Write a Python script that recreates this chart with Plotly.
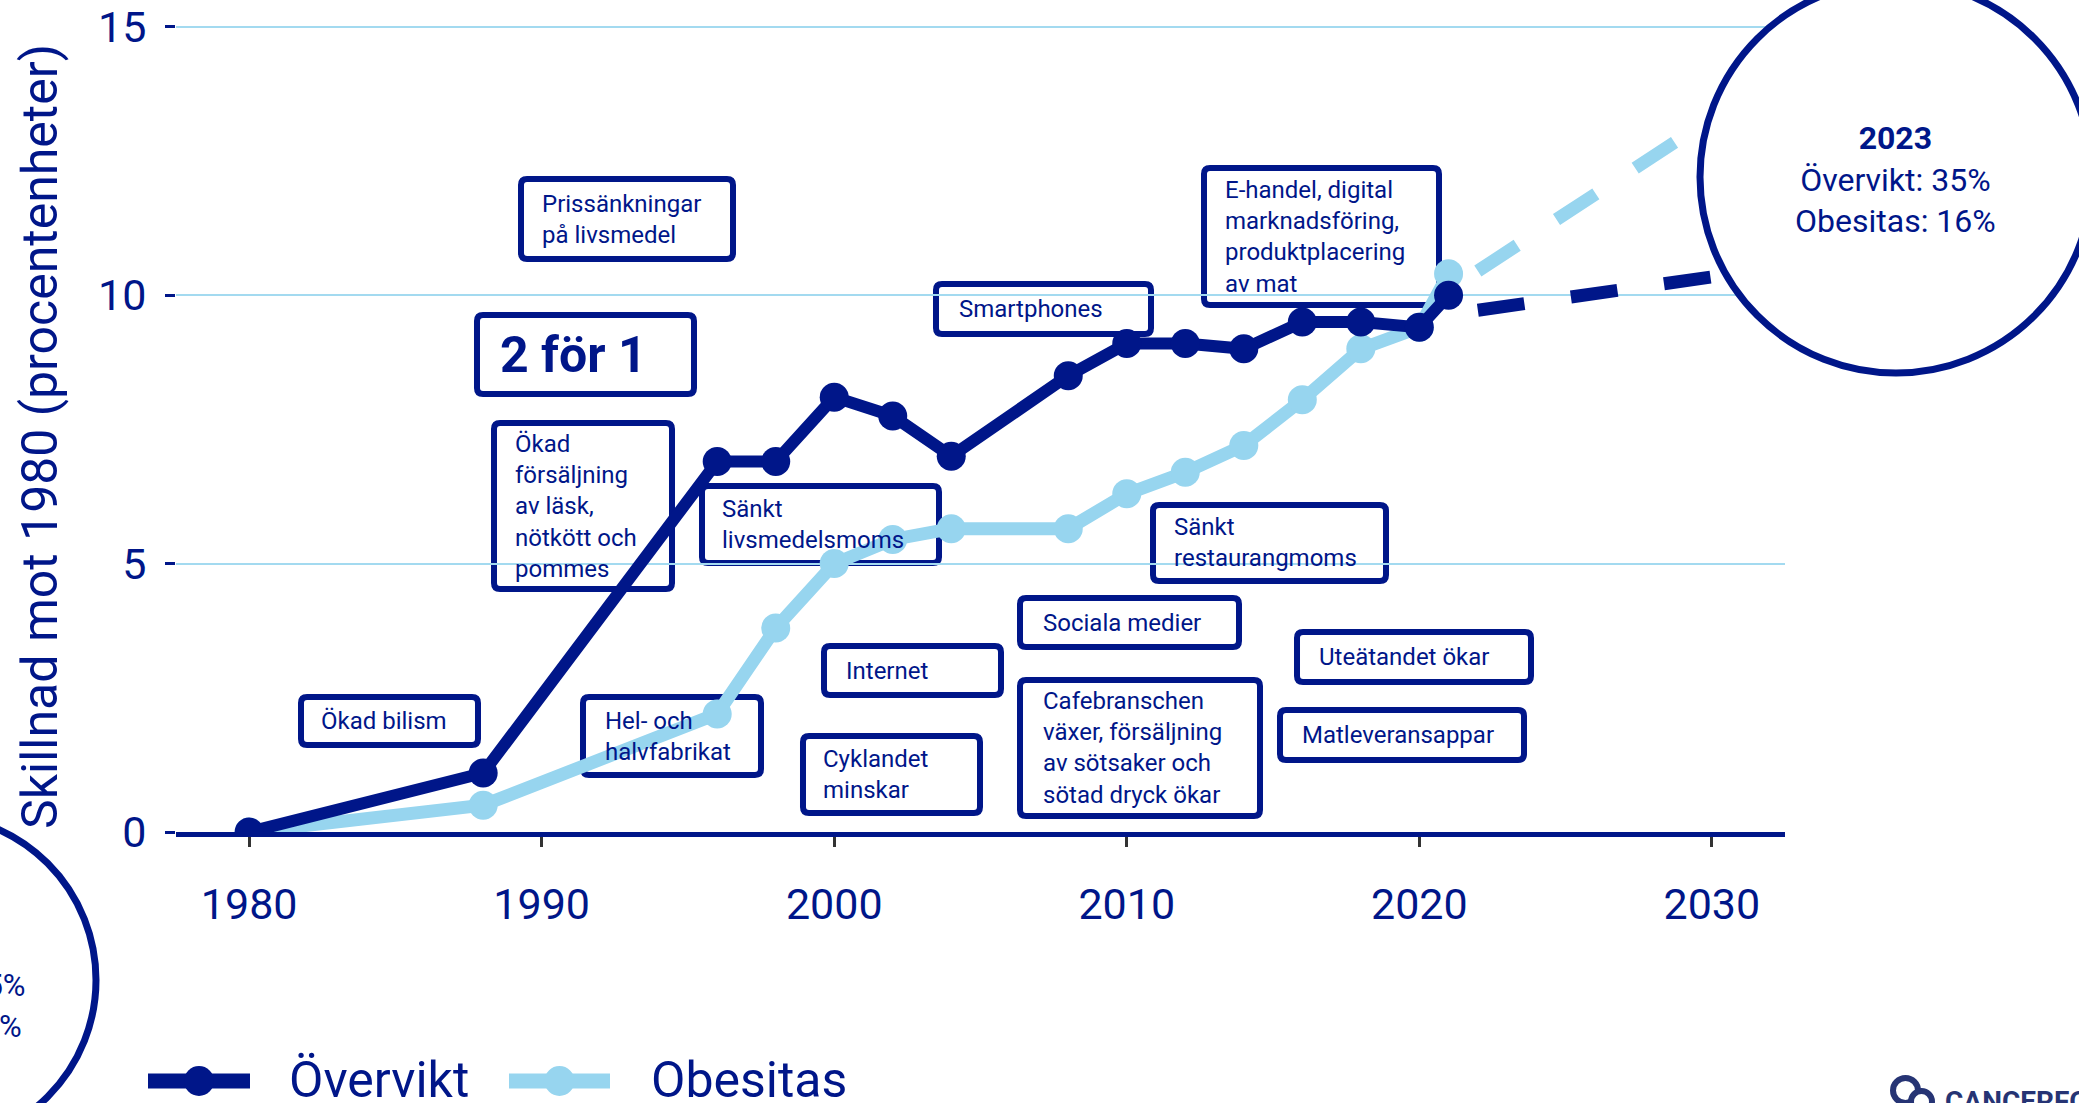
import plotly.graph_objects as go

# ---- data -------------------------------------------------------------
years = [1980, 1988, 1996, 1998, 2000, 2002, 2004, 2008, 2010, 2012, 2014, 2016, 2018, 2020, 2021]
overvikt = [0, 1.1, 6.9, 6.9, 8.1, 7.75, 7.0, 8.5, 9.1, 9.1, 9.0, 9.5, 9.5, 9.4, 10.0]
obesitas = [0, 0.5, 2.2, 3.8, 5.0, 5.45, 5.65, 5.65, 6.3, 6.7, 7.2, 8.05, 9.0, 9.4, 10.4]

proj_years = [2022, 2030]
overvikt_proj = [9.72, 10.34]
obesitas_proj = [10.45, 13.3]

series_names = ["Övervikt", "Obesitas"]
y_ticks = [0, 5, 10, 15]
x_ticks = [1980, 1990, 2000, 2010, 2020, 2030]

event_labels = [
    "Prissänkningar<br>på livsmedel",
    "<b>2 för 1</b>",
    "Ökad<br>försäljning<br>av läsk,<br>nötkött och<br>pommes",
    "Ökad bilism",
    "Hel- och<br>halvfabrikat",
    "Sänkt<br>livsmedelsmoms",
    "Internet",
    "Cyklandet<br>minskar",
    "Smartphones",
    "Sociala medier",
    "Cafebranschen<br>växer, försäljning<br>av sötsaker och<br>sötad dryck ökar",
    "Sänkt<br>restaurangmoms",
    "E-handel, digital<br>marknadsföring,<br>produktplacering<br>av mat",
    "Uteätandet ökar",
    "Matleveransappar",
]

summary_2023 = "<b>2023</b><br>Övervikt: 35%<br>Obesitas: 16%"
summary_1980 = "<b>1980</b><br>Övervikt: 25%<br>Obesitas: 6%"

# ---- styling / layout ------------------------------------------------
NAVY = "#001689"
LIGHT = "#97D5EF"
GRID = "#A3DAF0"
LOGO = "#263474"
FONT = "Roboto"

W, H = 2079, 1103
ML, MR, MT, MB = 176, 294, 16, 271
PW, PH = W - ML - MR, H - MT - MB


def px_x(p):
    return (p - ML) / PW


def px_y(p):
    return (H - MB - p) / PH


def rounded_box(x0, y0, x1, y1, r=6):
    pts = [
        ("M", [(x0 + r, y0)]),
        ("L", [(x1 - r, y0)]),
        ("Q", [(x1, y0), (x1, y0 + r)]),
        ("L", [(x1, y1 - r)]),
        ("Q", [(x1, y1), (x1 - r, y1)]),
        ("L", [(x0 + r, y1)]),
        ("Q", [(x0, y1), (x0, y1 - r)]),
        ("L", [(x0, y0 + r)]),
        ("Q", [(x0, y0), (x0 + r, y0)]),
    ]
    parts = []
    for cmd, coords in pts:
        parts.append(cmd + " ".join(f"{px_x(a):.5f},{px_y(b):.5f}" for a, b in coords))
    return " ".join(parts) + " Z"


# box outer edges (x0, y0, x1, y1) and text left edge, in page pixels
box_geom = [
    (518, 176, 736, 262, 540),
    (474, 312, 697, 397, 498),
    (491, 420, 675, 592, 513),
    (298, 694, 481, 748, 319),
    (580, 694, 764, 778, 603),
    (699, 483, 942, 566, 720),
    (821, 643, 1004, 698, 844),
    (800, 733, 983, 816, 821),
    (933, 281, 1154, 337, 957),
    (1017, 595, 1242, 650, 1041),
    (1017, 677, 1263, 819, 1041),
    (1150, 502, 1389, 584, 1172),
    (1201, 165, 1442, 308, 1223),
    (1294, 629, 1534, 685, 1317),
    (1277, 707, 1527, 763, 1300),
]

fig = go.Figure()

fig.add_trace(go.Scatter(
    x=proj_years, y=obesitas_proj, mode="lines",
    line=dict(color=LIGHT, width=13, dash="47px,47px"), showlegend=False,
))
fig.add_trace(go.Scatter(
    x=proj_years, y=overvikt_proj, mode="lines",
    line=dict(color=NAVY, width=13, dash="47px,47px"), showlegend=False,
))
fig.add_trace(go.Scatter(
    x=years, y=obesitas, mode="lines+markers", name=series_names[1],
    line=dict(color=LIGHT, width=13), marker=dict(color=LIGHT, size=29),
    showlegend=False,
))
fig.add_trace(go.Scatter(
    x=years, y=overvikt, mode="lines+markers", name=series_names[0],
    line=dict(color=NAVY, width=12), marker=dict(color=NAVY, size=29),
    showlegend=False,
))

shapes = []
annotations = []

# event boxes with their labels
for label, (x0, y0, x1, y1, tx) in zip(event_labels, box_geom):
    shapes.append(dict(
        type="path", xref="paper", yref="paper",
        path=rounded_box(x0 + 3, y0 + 3, x1 - 3, y1 - 3),
        line=dict(color=NAVY, width=6), fillcolor="rgba(0,0,0,0)", layer="below",
    ))
    big = label.startswith("<b>")
    annotations.append(dict(
        text=label, xref="paper", yref="paper",
        x=px_x(tx), y=px_y((y0 + y1) / 2), xanchor="left", yanchor="middle",
        align="left", showarrow=False,
        font=dict(family=FONT, size=50 if big else 24, color=NAVY),
    ))


def circle(cx, cy, r, width, fill="white", color=NAVY):
    return dict(
        type="circle", xref="paper", yref="paper",
        x0=px_x(cx - r), x1=px_x(cx + r), y0=px_y(cy + r), y1=px_y(cy - r),
        line=dict(color=color, width=width), fillcolor=fill, layer="above",
    )


# summary circles
shapes.append(circle(1896, 177, 196, 7))
shapes.append(circle(-69, 980, 165, 7))
annotations.append(dict(
    text=summary_2023, xref="paper", yref="paper", x=px_x(1896), y=px_y(180),
    xanchor="center", yanchor="middle", align="center", showarrow=False,
    font=dict(family=FONT, size=32, color=NAVY),
))
annotations.append(dict(
    text=summary_1980, xref="paper", yref="paper", x=px_x(-67), y=px_y(986),
    xanchor="center", yanchor="middle", align="center", showarrow=False,
    font=dict(family=FONT, size=31, color=NAVY),
))

# y-axis title
annotations.append(dict(
    text="Skillnad mot 1980 (procentenheter)", xref="paper", yref="paper",
    x=px_x(40), y=px_y(437), xanchor="center", yanchor="middle",
    textangle=-90, showarrow=False, font=dict(family=FONT, size=50, color=NAVY),
))

# legend drawn as line + dot + label
legend_items = [(series_names[0], NAVY, 148, 250, 287), (series_names[1], LIGHT, 509, 610, 649)]
for name, col, lx0, lx1, tx in legend_items:
    shapes.append(dict(
        type="line", xref="paper", yref="paper",
        x0=px_x(lx0), x1=px_x(lx1), y0=px_y(1081), y1=px_y(1081),
        line=dict(color=col, width=15), layer="above",
    ))
    shapes.append(circle((lx0 + lx1) / 2, 1081, 15, 0, fill=col, color=col))
    annotations.append(dict(
        text=name, xref="paper", yref="paper", x=px_x(tx), y=px_y(1080),
        xanchor="left", yanchor="middle", showarrow=False,
        font=dict(family=FONT, size=50, color=NAVY),
    ))

# logo in the corner
shapes.append(circle(1905.5, 1090.5, 12.5, 6, fill="rgba(0,0,0,0)", color=LOGO))
shapes.append(circle(1921.5, 1101.5, 10.5, 6, fill="white", color=LOGO))
annotations.append(dict(
    text="<b>CANCERFONDEN</b>", xref="paper", yref="paper", x=px_x(1943), y=px_y(1101),
    xanchor="left", yanchor="middle", showarrow=False,
    font=dict(family=FONT, size=28, color=LOGO),
))

fig.update_layout(
    width=W, height=H,
    margin=dict(l=ML, r=MR, t=MT, b=MB, pad=0, autoexpand=False),
    paper_bgcolor="white", plot_bgcolor="white",
    shapes=shapes, annotations=annotations,
    showlegend=False,
    font=dict(family=FONT, color=NAVY),
    xaxis=dict(
        range=[1977.5, 2032.5], tickvals=x_ticks, showgrid=False, zeroline=False,
        showline=True, linecolor=NAVY, linewidth=5, automargin=False,
        ticks="outside", ticklen=10, tickwidth=3, tickcolor="#333333",
        tickfont=dict(family=FONT, size=43, color=NAVY), ticklabelstandoff=20,
    ),
    yaxis=dict(
        range=[0, 15.2], tickvals=y_ticks, showgrid=True, gridcolor=GRID, gridwidth=2,
        zeroline=False, showline=False, automargin=False,
        ticks="outside", ticklen=10, tickwidth=3, tickcolor=NAVY,
        tickfont=dict(family=FONT, size=43, color=NAVY), ticklabelstandoff=10,
    ),
)

fig.write_html("out.html")
